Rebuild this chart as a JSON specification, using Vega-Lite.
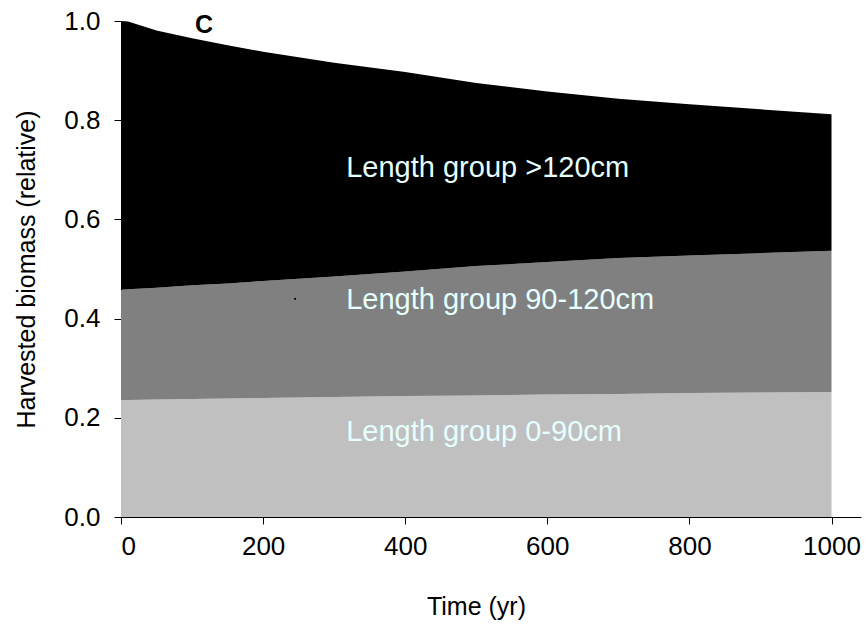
{
  "$schema": "https://vega.github.io/schema/vega-lite/v6.json",
  "autosize": "none",
  "width": 740,
  "height": 496,
  "padding": {"left": 121, "top": 21, "right": 4, "bottom": 107},
  "background": "white",
  "config": {
    "view": {"stroke": null},
    "font": "Liberation Sans",
    "axis": {
      "grid": false,
      "domainColor": "black",
      "domainWidth": 1,
      "tickColor": "black",
      "tickWidth": 1,
      "tickSize": 7,
      "labelColor": "black",
      "titleColor": "black",
      "labelFont": "Liberation Sans",
      "titleFont": "Liberation Sans",
      "labelFontSize": 26,
      "titleFontSize": 25,
      "titleFontWeight": "normal"
    }
  },
  "datasets": {
    "biomass": [
      {"time": 0, "group": "0-90cm", "share": 0.236},
      {"time": 0, "group": "90-120cm", "share": 0.222},
      {"time": 0, "group": ">120cm", "share": 0.542},
      {"time": 10, "group": "0-90cm", "share": 0.236},
      {"time": 10, "group": "90-120cm", "share": 0.223},
      {"time": 10, "group": ">120cm", "share": 0.540},
      {"time": 50, "group": "0-90cm", "share": 0.237},
      {"time": 50, "group": "90-120cm", "share": 0.225},
      {"time": 50, "group": ">120cm", "share": 0.519},
      {"time": 100, "group": "0-90cm", "share": 0.238},
      {"time": 100, "group": "90-120cm", "share": 0.229},
      {"time": 100, "group": ">120cm", "share": 0.498},
      {"time": 150, "group": "0-90cm", "share": 0.239},
      {"time": 150, "group": "90-120cm", "share": 0.232},
      {"time": 150, "group": ">120cm", "share": 0.480},
      {"time": 200, "group": "0-90cm", "share": 0.240},
      {"time": 200, "group": "90-120cm", "share": 0.236},
      {"time": 200, "group": ">120cm", "share": 0.462},
      {"time": 300, "group": "0-90cm", "share": 0.242},
      {"time": 300, "group": "90-120cm", "share": 0.243},
      {"time": 300, "group": ">120cm", "share": 0.431},
      {"time": 400, "group": "0-90cm", "share": 0.244},
      {"time": 400, "group": "90-120cm", "share": 0.251},
      {"time": 400, "group": ">120cm", "share": 0.402},
      {"time": 500, "group": "0-90cm", "share": 0.245},
      {"time": 500, "group": "90-120cm", "share": 0.261},
      {"time": 500, "group": ">120cm", "share": 0.369},
      {"time": 600, "group": "0-90cm", "share": 0.247},
      {"time": 600, "group": "90-120cm", "share": 0.267},
      {"time": 600, "group": ">120cm", "share": 0.344},
      {"time": 700, "group": "0-90cm", "share": 0.248},
      {"time": 700, "group": "90-120cm", "share": 0.274},
      {"time": 700, "group": ">120cm", "share": 0.321},
      {"time": 800, "group": "0-90cm", "share": 0.250},
      {"time": 800, "group": "90-120cm", "share": 0.277},
      {"time": 800, "group": ">120cm", "share": 0.305},
      {"time": 900, "group": "0-90cm", "share": 0.251},
      {"time": 900, "group": "90-120cm", "share": 0.281},
      {"time": 900, "group": ">120cm", "share": 0.290},
      {"time": 1000, "group": "0-90cm", "share": 0.252},
      {"time": 1000, "group": "90-120cm", "share": 0.285},
      {"time": 1000, "group": ">120cm", "share": 0.275}
    ],
    "labels": [
      {"time": 317, "y": 0.704, "text": "Length group >120cm"},
      {"time": 317, "y": 0.4375, "text": "Length group 90-120cm"},
      {"time": 317, "y": 0.171, "text": "Length group 0-90cm"}
    ],
    "panel": [
      {"time": 117, "y": 0.992, "text": "C"}
    ],
    "speck": [
      {"time": 245, "y": 0.44}
    ]
  },
  "layer": [
    {
      "data": {"name": "biomass"},
      "mark": {"type": "area", "interpolate": "linear"},
      "encoding": {
        "x": {
          "field": "time",
          "type": "quantitative",
          "scale": {"domain": [0, 1041.5], "nice": false, "zero": false},
          "axis": {
            "values": [0, 200, 400, 600, 800, 1000],
            "format": "d",
            "title": "Time (yr)",
            "labelPadding": 9,
            "titleX": 355,
            "titleY": 89,
            "titleBaseline": "middle",
            "titleAnchor": null,
            "titleAlign": "center"
          }
        },
        "y": {
          "field": "share",
          "type": "quantitative",
          "stack": "zero",
          "scale": {"domain": [0, 1], "nice": false},
          "axis": {
            "values": [0, 0.2, 0.4, 0.6, 0.8, 1.0],
            "format": ".1f",
            "title": "Harvested biomass (relative)",
            "labelPadding": 14,
            "titleX": -95,
            "titleY": 248,
            "titleBaseline": "middle",
            "titleAlign": "center",
            "titleAnchor": null
          }
        },
        "color": {
          "field": "group",
          "type": "nominal",
          "scale": {
            "domain": ["0-90cm", "90-120cm", ">120cm"],
            "range": ["#c0c0c0", "#808080", "#000000"]
          },
          "legend": null
        },
        "order": {"field": "group", "sort": "ascending"}
      }
    },
    {
      "data": {"name": "speck"},
      "mark": {"type": "point", "filled": true, "color": "black", "size": 5, "opacity": 1},
      "encoding": {
        "x": {"field": "time", "type": "quantitative"},
        "y": {"field": "y", "type": "quantitative"}
      }
    },
    {
      "data": {"name": "labels"},
      "mark": {"type": "text", "align": "left", "baseline": "middle", "font": "Liberation Sans", "fontSize": 29, "color": "#e6ffff"},
      "encoding": {
        "x": {"field": "time", "type": "quantitative"},
        "y": {"field": "y", "type": "quantitative"},
        "text": {"field": "text"}
      }
    },
    {
      "data": {"name": "panel"},
      "mark": {"type": "text", "align": "center", "baseline": "middle", "font": "Liberation Sans", "fontSize": 25, "fontWeight": "bold", "color": "black"},
      "encoding": {
        "x": {"field": "time", "type": "quantitative"},
        "y": {"field": "y", "type": "quantitative"},
        "text": {"field": "text"}
      }
    }
  ]
}
